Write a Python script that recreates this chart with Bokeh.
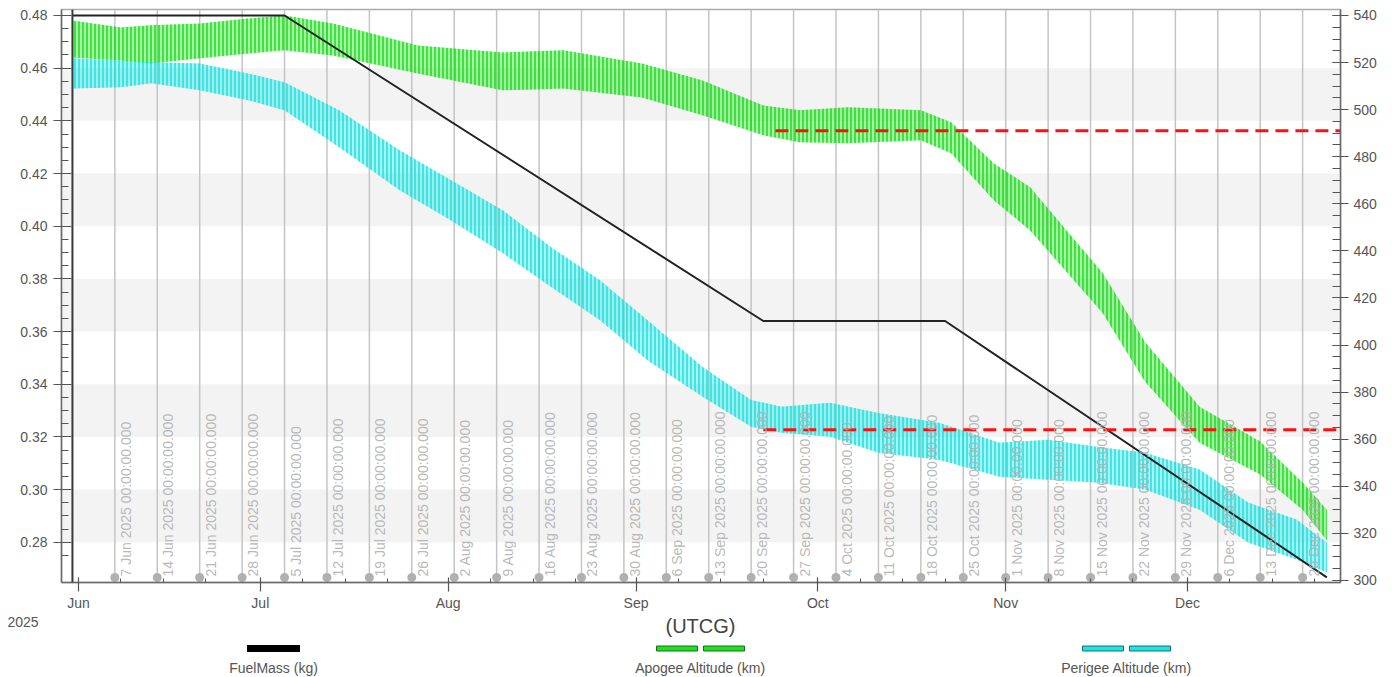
import numpy as np
import pandas as pd
from bokeh.plotting import figure
from bokeh.models import (Range1d, LinearAxis, FixedTicker, DatetimeTickFormatter,
                          PrintfTickFormatter, BoxAnnotation, Span)
from bokeh.embed import file_html
from bokeh.resources import INLINE
from bokeh.core.properties import value

# ---------------- data ----------------
fuel_dates = ["2025-05-31", "2025-07-05", "2025-09-22", "2025-10-22", "2025-12-24"]
fuel_kg = [0.480, 0.480, 0.364, 0.364, 0.2667]

apogee_dates = ["2025-05-31", "2025-06-08", "2025-06-13", "2025-06-21", "2025-06-29",
                "2025-07-05", "2025-07-13", "2025-07-27", "2025-08-10", "2025-08-20",
                "2025-09-02", "2025-09-12", "2025-09-22", "2025-09-28", "2025-10-06",
                "2025-10-18", "2025-10-23", "2025-10-30", "2025-11-05", "2025-11-17",
                "2025-11-24", "2025-12-03", "2025-12-13", "2025-12-20", "2025-12-24"]
apogee_max = [537.9, 534.9, 535.8, 536.6, 538.7, 540.0, 536.6, 527.3, 524.3, 525.2,
              519.6, 512.4, 501.8, 499.7, 501.0, 499.7, 494.6, 477.2, 467.1, 430.6,
              401.3, 373.8, 359.0, 341.6, 330.0]
apogee_min = [522.2, 520.9, 519.6, 521.8, 523.9, 525.2, 523.0, 515.4, 508.2, 509.0,
              505.2, 497.6, 489.1, 486.1, 485.7, 487.0, 481.5, 461.6, 448.8, 413.6,
              384.4, 358.5, 345.0, 330.0, 317.0]

perigee_dates = ["2025-05-31", "2025-06-08", "2025-06-13", "2025-06-21", "2025-06-29",
                 "2025-07-05", "2025-07-14", "2025-07-24", "2025-08-01", "2025-08-10",
                 "2025-08-18", "2025-08-26", "2025-09-03", "2025-09-12", "2025-09-20",
                 "2025-09-25", "2025-10-03", "2025-10-11", "2025-10-21", "2025-10-31",
                 "2025-11-08", "2025-11-16", "2025-11-24", "2025-12-03", "2025-12-11",
                 "2025-12-19", "2025-12-24"]
perigee_max = [521.8, 520.9, 520.1, 519.6, 515.4, 511.6, 499.7, 482.8, 470.8, 457.3,
               441.6, 427.6, 410.3, 390.7, 376.7, 373.8, 375.5, 371.2, 367.0, 358.5,
               359.8, 356.8, 354.3, 347.1, 333.1, 325.9, 316.1]
perigee_min = [509.0, 509.5, 511.2, 508.2, 504.0, 499.7, 484.0, 465.8, 453.7, 439.1,
               424.7, 410.7, 393.3, 378.0, 365.3, 362.8, 361.1, 354.3, 351.3, 344.1,
               342.8, 341.6, 338.6, 330.1, 316.1, 308.9, 303.4]

limit_start_dates = ["2025-09-24", "2025-09-22"]
limit_km = [491, 364]

event_dates = ["2025-06-07", "2025-06-14", "2025-06-21", "2025-06-28",
               "2025-07-05", "2025-07-12", "2025-07-19", "2025-07-26",
               "2025-08-02", "2025-08-09", "2025-08-16", "2025-08-23", "2025-08-30",
               "2025-09-06", "2025-09-13", "2025-09-20", "2025-09-27",
               "2025-10-04", "2025-10-11", "2025-10-18", "2025-10-25",
               "2025-11-01", "2025-11-08", "2025-11-15", "2025-11-22", "2025-11-29",
               "2025-12-06", "2025-12-13", "2025-12-20"]

month_ticks = ["2025-06-01", "2025-07-01", "2025-08-01", "2025-09-01",
               "2025-10-01", "2025-11-01", "2025-12-01"]
fuel_ticks = [0.28, 0.30, 0.32, 0.34, 0.36, 0.38, 0.40, 0.42, 0.44, 0.46, 0.48]
alt_ticks = [300, 320, 340, 360, 380, 400, 420, 440, 460, 480, 500, 520, 540]

legend_labels = ["FuelMass (kg)", "Apogee Altitude (km)", "Perigee Altitude (km)"]

# ---------------- helpers ----------------
def ms(s):
    return pd.Timestamp(s).value / 1e6

FONT = "Liberation Sans"
GREEN = "#1fe01f"
CYAN = "#1fe3e3"

x0 = ms("2025-06-01") - 2.805 * 86400000
x1 = ms("2025-06-01") + 208.25 * 86400000
y0, y1 = 0.264725, 0.482274
k0, k1 = 299.15, 542.54
FRAME_H = 574
upx = (y1 - y0) / FRAME_H

p = figure(width=1392, height=613, x_axis_type="datetime",
           x_range=Range1d(x0, x1), y_range=Range1d(y0, y1),
           output_backend="svg", toolbar_location=None,
           min_border_left=61, min_border_right=52, min_border_top=9, min_border_bottom=30)
p.extra_y_ranges = {"km": Range1d(k0, k1)}
p.xgrid.visible = False
p.ygrid.visible = False
p.outline_line_color = "#aaaaaa"
p.outline_line_width = 1.5
p.background_fill_color = "white"
p.border_fill_color = "white"

# alternating bands
for i in range(0, len(fuel_ticks) - 1, 2):
    p.add_layout(BoxAnnotation(bottom=fuel_ticks[i], top=fuel_ticks[i + 1],
                               fill_color="#f3f3f3", fill_alpha=1.0, line_color=None,
                               level="underlay"))

# event lines
ev_ms = [ms(d) for d in event_dates]
for e in ev_ms:
    p.add_layout(Span(location=e, dimension="height", line_color="#c4c4c4",
                      line_width=1.5, level="underlay"))
p.add_layout(Span(location=ms(fuel_dates[0]), dimension="height", line_color="#3a3a3a",
                  line_width=2))

# series (textured bands for the fast oscillation)
ap_x = [ms(d) for d in apogee_dates]
pe_x = [ms(d) for d in perigee_dates]
p.varea(x=ap_x, y1=apogee_min, y2=apogee_max, fill_color=GREEN, fill_alpha=0.4,
        hatch_pattern="vertical_line", hatch_color="#10d810", hatch_alpha=0.9,
        hatch_scale=4, hatch_weight=1.5, y_range_name="km")
p.varea(x=pe_x, y1=perigee_min, y2=perigee_max, fill_color=CYAN, fill_alpha=0.4,
        hatch_pattern="vertical_line", hatch_color="#10dede", hatch_alpha=0.9,
        hatch_scale=4, hatch_weight=1.5, y_range_name="km")

p.line(x=[ms(d) for d in fuel_dates], y=fuel_kg, line_color="#222222", line_width=2)

p.segment(x0=[ms(d) for d in limit_start_dates], y0=limit_km,
          x1=[x1] * len(limit_km), y1=limit_km, line_color="#ff1010",
          line_width=3, line_dash="13 7", y_range_name="km")

# event markers
labels = [f"{pd.Timestamp(d).day} {pd.Timestamp(d).strftime('%b %Y')} 00:00:00.000"
          for d in event_dates]
p.scatter(x=ev_ms, y=[y0 + 5 * upx] * len(ev_ms), size=9, fill_color="#b0b0b0",
          line_color=None)
p.text(x=ev_ms, y=[y0 + 6 * upx] * len(ev_ms), text=labels, angle=np.pi / 2,
       text_align="left", text_baseline="top", x_offset=3,
       text_font=value(FONT), text_font_size="14px", text_color="#b0b0b0",
       text_alpha=0.9)

# axes
p.xaxis.ticker = FixedTicker(ticks=[ms(d) for d in month_ticks],
                             minor_ticks=[ms(d) + k * 86400000 for d in month_ticks
                                          for k in (7, 14, 21)])
p.xaxis.formatter = DatetimeTickFormatter(days="%b", months="%b", years="%b")
minor_f = [round(fuel_ticks[0] + 0.005 * i, 4) for i in range(-1, 42)]
p.yaxis.ticker = FixedTicker(ticks=fuel_ticks, minor_ticks=minor_f)
p.yaxis.formatter = PrintfTickFormatter(format="%.2f")

ax_r = LinearAxis(y_range_name="km",
                  ticker=FixedTicker(ticks=alt_ticks,
                                     minor_ticks=[alt_ticks[0] + 5 * i for i in range(-1, 50)]),
                  formatter=PrintfTickFormatter(format="%d"))
p.add_layout(ax_r, "right")

for ax in [p.xaxis[0], p.yaxis[0], ax_r]:
    ax.axis_line_color = "#6a6a6a"
    ax.axis_line_width = 1.5
    ax.major_tick_line_color = "#555555"
    ax.minor_tick_line_color = "#555555"
    ax.major_tick_line_width = 1.2
    ax.major_label_text_font = FONT
    ax.major_label_text_font_size = "14px"
    ax.major_label_text_color = "#555555"
    ax.minor_tick_out = 0

p.xaxis.major_tick_in = 5
p.xaxis.major_tick_out = 9
p.xaxis.minor_tick_in = 4
p.xaxis.major_label_standoff = 3
p.yaxis.major_tick_in = 10
p.yaxis.major_tick_out = 8
p.yaxis.minor_tick_in = 7
p.yaxis.major_label_standoff = 6
ax_r.major_tick_in = 8
ax_r.major_tick_out = 8
ax_r.minor_tick_in = 8
ax_r.major_label_standoff = 5

# ---------------- legend / footer (separate root, page pixel coordinates) ----------------
LH = 64
L = figure(width=1392, height=LH, x_range=Range1d(0, 1392), y_range=Range1d(LH, 0),
           output_backend="svg", toolbar_location=None, min_border=0,
           x_axis_location=None, y_axis_location=None)
L.grid.visible = False
L.outline_line_color = None
L.background_fill_color = "white"
L.border_fill_color = "white"

L.text(x=[7], y=[8], text=["2025"], text_align="left", text_baseline="middle",
       text_font=value(FONT), text_font_size="14px", text_color="#555555")
L.text(x=[700], y=[12], text=["(UTCG)"], text_align="center", text_baseline="middle",
       text_font=value(FONT), text_font_size="20px", text_color="#444444")

leg_x = [273, 700, 1126]
L.rect(x=[leg_x[0]], y=[35], width=53, height=7, fill_color="#000000", line_color=None)
for cx, col, lc in [(leg_x[1], GREEN, "#1a6d1a"), (leg_x[2], CYAN, "#1a6d6d")]:
    L.rect(x=[cx - 23.5, cx + 23.5], y=[35, 35], width=41, height=5, fill_color=col,
           line_color=lc, line_width=1)
L.text(x=leg_x, y=[54] * 3, text=legend_labels, text_align="center",
       text_baseline="middle", text_font=value(FONT), text_font_size="14px",
       text_color="#555555")

open("out.html", "w").write(file_html([p, L], INLINE))
